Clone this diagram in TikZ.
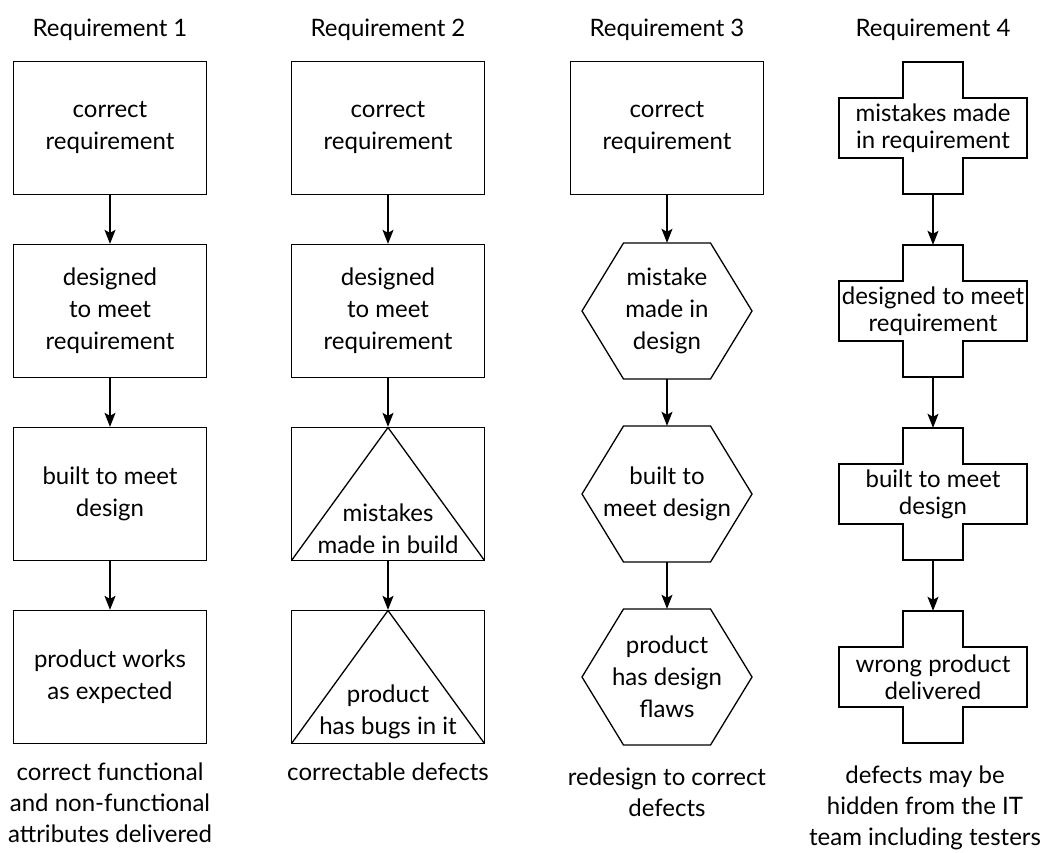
\documentclass[tikz,border=0pt]{standalone}
\usepackage{fontspec}
\setmainfont{Lato}
\usetikzlibrary{positioning,arrows.meta}

\begin{document}
\begin{tikzpicture}
  [x=1pt, y=1pt, node distance=183pt,
   every node/.style = {font=\fontsize{24}{32}\selectfont, align=center},
   box/.style = {draw, line width=1.3pt, minimum width=193pt, minimum height=133pt, inner sep=0pt},
   tribox/.style = {box, path picture={\draw[line width=1.3pt] (path picture bounding box.south west)
       -- (path picture bounding box.north) -- (path picture bounding box.south east);}},
   hexbox/.style = {minimum width=170pt, minimum height=136pt, inner sep=0pt},
   plusbox/.style = {minimum width=188pt, minimum height=132pt, inner sep=0pt,
       font=\fontsize{24}{27}\selectfont},
   note/.style = {font=\fontsize{24}{31}\selectfont},
   flow/.style = {-{Stealth[length=14pt, width=11pt, inset=3pt]}, line width=1.3pt}]

  \useasboundingbox (0,0) rectangle (1052,-852);

  \node (h1) at (110,-30) {Requirement 1};
  \node (h2) at (388,-30) {Requirement 2};
  \node (h3) at (667,-30) {Requirement 3};
  \node (h4) at (933,-30) {Requirement 4};

  % requirement 1: all plain boxes
  \node[box] (a1) [node distance=98pt, below of=h1] {correct\\requirement};
  \node[box] (a2) [below of=a1] {designed\\to meet\\requirement};
  \node[box] (a3) [below of=a2] {built to meet\\design};
  \node[box] (a4) [below of=a3] {product works\\as expected};
  \node[note] (n1) [node distance=126pt, below of=a4] {correct functional\\and non-functional\\attributes delivered};

  % requirement 2: the build goes wrong
  \node[box] (b1) [node distance=98pt, below of=h2] {correct\\requirement};
  \node[box] (b2) [below of=b1] {designed\\to meet\\requirement};
  \node[tribox] (b3) [below of=b2] {\mbox{}\\[55pt]mistakes\\made in build};
  \node[tribox] (b4) [below of=b3] {\mbox{}\\[55pt]product\\has bugs in it};
  \node[note] (n2) [node distance=95pt, below of=b4] {correctable defects};

  % requirement 3: the design goes wrong
  \node[box] (c1) [node distance=98pt, below of=h3] {correct\\requirement};
  \node[hexbox] (c2) [below of=c1] {mistake\\made in\\design};
  \node[hexbox] (c3) [below of=c2] {built to\\meet design};
  \node[hexbox] (c4) [below of=c3] {product\\has design\\flaws};
  \node[note] (n3) [node distance=115pt, below of=c4] {redesign to correct\\defects};

  % requirement 4: wrong from the start
  \node[plusbox] (d1) [node distance=98pt, below of=h4] {mistakes made\\in requirement};
  \node[plusbox] (d2) [below of=d1] {designed to meet\\requirement};
  \node[plusbox] (d3) [below of=d2] {built to meet\\design};
  \node[plusbox] (d4) [below of=d3] {wrong product\\delivered};
  \node[note] (n4) [node distance=131pt, below of=d4, xshift=-8pt] {defects may be\\hidden from the IT\\team including testers};

  % outlines of the hexagons and crosses
  \foreach \n in {c2,c3,c4}
    \draw[line width=1.3pt] (\n.center) ++(-43.5,68) -- ++(87,0) -- ++(41.5,-68) -- ++(-41.5,-68)
      -- ++(-87,0) -- ++(-41.5,68) -- cycle;
  \foreach \n in {d1,d2,d3,d4}
    \draw[line width=1.3pt] (\n.center) ++(-30,66) -- ++(60,0) -- ++(0,-36) -- ++(64,0) -- ++(0,-60)
      -- ++(-64,0) -- ++(0,-36) -- ++(-60,0) -- ++(0,36) -- ++(-64,0) -- ++(0,60) -- ++(64,0) -- cycle;

  \foreach \c in {a,b,c,d} {
    \draw[flow] (\c1) -- (\c2);
    \draw[flow] (\c2) -- (\c3);
    \draw[flow] (\c3) -- (\c4);
  }
\end{tikzpicture}
\end{document}
